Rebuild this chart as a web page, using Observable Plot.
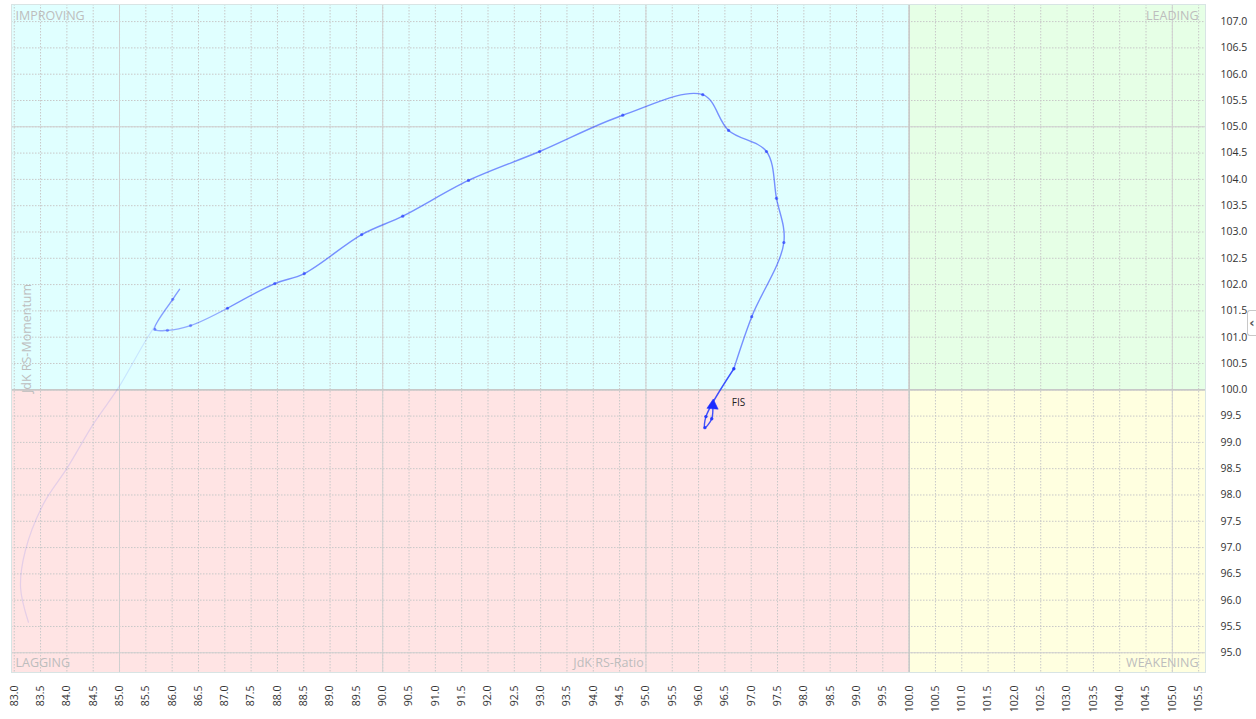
<!DOCTYPE html>
<html>
<head>
<meta charset="utf-8">
<script src="https://cdn.jsdelivr.net/npm/d3@7"></script>
<script src="https://cdn.jsdelivr.net/npm/@observablehq/plot@0.6"></script>
<style>
  html, body { margin: 0; padding: 0; background: #fff; overflow: hidden; }
  #wrap { position: relative; width: 1256px; height: 719px; }
  #tab { position: absolute; left: 1247px; top: 310px; width: 9px; height: 26px; box-sizing: border-box;
         border: 1px solid #c8c8c8; border-right: none; border-radius: 3px 0 0 3px; background: #fff;
         font: bold 13px "DejaVu Sans", sans-serif; color: #555; line-height: 24px; text-align: center; }
</style>
</head>
<body>
<div id="wrap"><div id="tab">‹</div></div>
<script>
// ---- data ----
const symbol = "FIS";
// JdK RS-Ratio (x) and JdK RS-Momentum (y), oldest to newest
const rsRatio = [83.27, 83.12, 83.21, 83.56, 84.01, 84.51, 84.98, 85.53, 86.14,
                 86.01, 85.67, 85.91, 86.35, 87.05, 87.95, 88.51, 89.60, 90.38, 91.63,
                 92.98, 94.56, 96.08, 96.57, 97.29, 97.48, 97.62, 97.01, 96.67,
                 96.14, 96.12, 96.25, 96.27];
const rsMomentum = [95.58, 96.24, 96.94, 97.84, 98.52, 99.36, 100.04, 100.99, 101.91,
                    101.72, 101.15, 101.13, 101.22, 101.55, 102.02, 102.21, 102.95, 103.30, 103.98,
                    104.53, 105.22, 105.61, 104.93, 104.53, 103.64, 102.80, 101.39, 100.40,
                    99.49, 99.28, 99.45, 99.72];
const quadrantNames = ["IMPROVING", "LEADING", "LAGGING", "WEAKENING"];
const center = 100;
const xDomain = [82.948, 105.63];
const yDomain = [94.625, 107.325];
const xTicks = d3.range(83, 105.51, 0.5);
const yTicks = d3.range(95, 107.01, 0.5);
const majorX = [85, 90, 95, 105];
const majorY = [95, 105];

// ---- styles ----
const quadFill = {IMPROVING: "#e0ffff", LEADING: "#e6ffe6", LAGGING: "#ffe4e4", WEAKENING: "#ffffe0"};
const blue = "#1f35ff";

const pts = rsRatio.map((x, i) => ({x, y: rsMomentum[i], i}));
const faint = pts.slice(0, 9);
const partA = pts.slice(8, 14);
const partB = pts.slice(13, 28);
const partC = pts.slice(27);
const last = pts[pts.length - 1], prev = pts[pts.length - 2];
const headAngle = Math.atan2(last.x - prev.x, last.y - prev.y) * 180 / Math.PI;

const quads = [
  {name: quadrantNames[0], x1: xDomain[0], x2: center, y1: center, y2: yDomain[1]},
  {name: quadrantNames[1], x1: center, x2: xDomain[1], y1: center, y2: yDomain[1]},
  {name: quadrantNames[2], x1: xDomain[0], x2: center, y1: yDomain[0], y2: center},
  {name: quadrantNames[3], x1: center, x2: xDomain[1], y1: yDomain[0], y2: center}
];

const labelStyle = {fill: "#bdbdbd", fontSize: 12.5, fontFamily: "Open Sans"};

const chart = Plot.plot({
  width: 1256,
  height: 719,
  marginLeft: 11,
  marginRight: 51,
  marginTop: 4,
  marginBottom: 47,
  x: {domain: xDomain},
  y: {domain: yDomain},
  style: {fontFamily: "Open Sans", fontSize: "10.5px", color: "#333", background: "#fff"},
  marks: [
    Plot.rect(quads, {x1: "x1", x2: "x2", y1: "y1", y2: "y2", fill: d => quadFill[d.name]}),
    Plot.ruleX(xTicks, {stroke: "#c8c8c8", strokeDasharray: "1.5,1.5", strokeWidth: 1}),
    Plot.ruleY(yTicks, {stroke: "#c8c8c8", strokeDasharray: "1.5,1.5", strokeWidth: 1}),
    Plot.ruleX(majorX, {stroke: "#d0d0d0", strokeWidth: 1}),
    Plot.ruleY(majorY, {stroke: "#d0d0d0", strokeWidth: 1}),
    Plot.ruleX([center], {stroke: "#c8c8c8", strokeWidth: 1.6}),
    Plot.ruleY([center], {stroke: "#c8c8c8", strokeWidth: 1.8}),
    Plot.frame({stroke: "#d8e4e4"}),
    Plot.text([quadrantNames[0]], {frameAnchor: "top-left", dx: 4, dy: 7, lineAnchor: "top", ...labelStyle}),
    Plot.text([quadrantNames[1]], {frameAnchor: "top-right", dx: -7, dy: 7, lineAnchor: "top", ...labelStyle}),
    Plot.text([quadrantNames[2]], {frameAnchor: "bottom-left", dx: 4, dy: -6, lineAnchor: "bottom", ...labelStyle}),
    Plot.text([quadrantNames[3]], {frameAnchor: "bottom-right", dx: -7, dy: -6, lineAnchor: "bottom", ...labelStyle}),
    Plot.text(["JdK RS-Ratio"], {frameAnchor: "bottom", dy: -6, lineAnchor: "bottom", ...labelStyle}),
    Plot.text(["JdK RS-Momentum"], {frameAnchor: "left", dx: 15, rotate: -90, textAnchor: "middle", ...labelStyle}),
    // trail
    Plot.line(faint, {x: "x", y: "y", curve: "catmull-rom", stroke: blue, strokeOpacity: 0.12, strokeWidth: 1.2}),
    Plot.line(partA, {x: "x", y: "y", curve: "catmull-rom", stroke: blue, strokeOpacity: 0.42, strokeWidth: 1.4}),
    Plot.line(partB, {x: "x", y: "y", curve: "catmull-rom", stroke: blue, strokeOpacity: 0.55, strokeWidth: 1.4}),
    Plot.line(partC, {x: "x", y: "y", curve: "catmull-rom", stroke: blue, strokeOpacity: 0.85, strokeWidth: 1.4}),
    Plot.dot(pts.slice(9, 13), {x: "x", y: "y", r: 1.6, fill: blue, fillOpacity: 0.45}),
    Plot.dot(pts.slice(13, 27), {x: "x", y: "y", r: 1.6, fill: blue, fillOpacity: 0.65}),
    Plot.dot(pts.slice(27, -1), {x: "x", y: "y", r: 1.7, fill: blue, fillOpacity: 0.9}),
    Plot.dot([last], {x: "x", y: "y", symbol: "triangle", r: 4.2, fill: "#1a2cff", stroke: "#1a2cff", strokeWidth: 0.5, rotate: headAngle, dy: 1}),
    Plot.text([last], {x: "x", y: "y", text: () => symbol, dx: 19, dy: -2, textAnchor: "start", fill: "#222", fontSize: 10}),
    // axes
    Plot.axisY(yTicks, {anchor: "right", tickSize: 0, tickPadding: 15, tickFormat: d => d.toFixed(1), label: null, fill: "#333"}),
    Plot.axisX(xTicks, {anchor: "bottom", tickSize: 0, tickPadding: 13, tickRotate: -90, tickFormat: d => d.toFixed(1), label: null, fill: "#333"})
  ]
});
document.getElementById("wrap").prepend(chart);
</script>
</body>
</html>
